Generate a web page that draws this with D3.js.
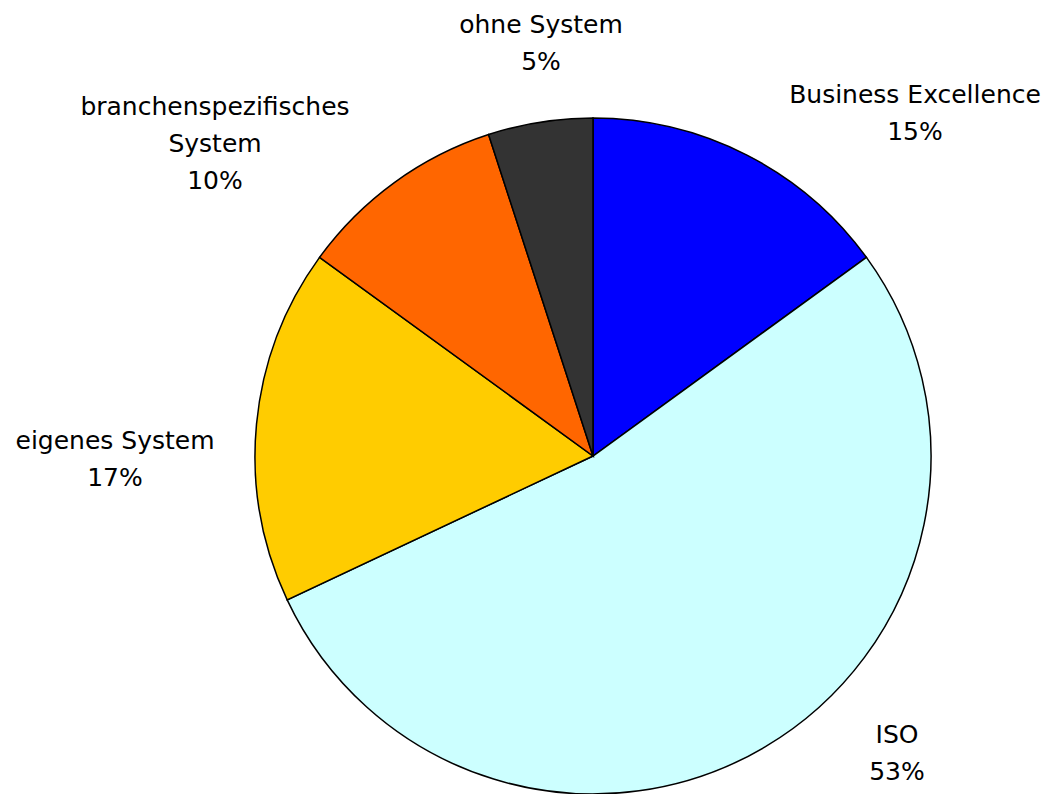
<!DOCTYPE html>
<html>
<head>
<meta charset="utf-8">
<script src="https://cdn.jsdelivr.net/npm/d3@7"></script>
<style>
  body { margin: 0; background: #fff; }
</style>
</head>
<body>
<div id="main-container"></div>
<script>
// DATA
const categories = ["Business Excellence", "ISO", "eigenes System", "branchenspezifisches System", "ohne System"];
const values = [15, 53, 17, 10, 5];
const labelLines = [
    ["Business Excellence", "15%"],
    ["ISO", "53%"],
    ["eigenes System", "17%"],
    ["branchenspezifisches", "System", "10%"],
    ["ohne System", "5%"]
];
const colors = ["#0000ff", "#ccffff", "#ffcc00", "#ff6600", "#333333"];

// SETUP
const width = 1048, height = 794;
const cx = 593, cy = 456, radius = 338;

const svg = d3.select("#main-container").append("svg")
    .attr("width", width)
    .attr("height", height);

const pie = d3.pie().sort(null).value(d => d);
const arcs = pie(values);
const arc = d3.arc().innerRadius(0).outerRadius(radius);

const g = svg.append("g").attr("transform", `translate(${cx},${cy})`);

g.selectAll(".slice")
    .data(arcs)
    .enter().append("path")
    .attr("class", "slice")
    .attr("d", arc)
    .style("fill", (d, i) => colors[i])
    .style("stroke", "black")
    .style("stroke-width", "1.5");

// label anchor offsets (tuned to match reference placement)
const labelPos = [
    [322, -353],
    [304, 287],
    [-478, -7],
    [-378, -341],
    [-52, -423]
];

const lineH = 37;
const labels = g.selectAll(".label")
    .data(arcs)
    .enter().append("text")
    .attr("class", "label")
    .attr("text-anchor", "middle")
    .attr("font-family", "Tahoma, 'DejaVu Sans', sans-serif")
    .attr("font-size", 25)
    .attr("fill", "black")
    .attr("transform", (d, i) => `translate(${labelPos[i][0]},${labelPos[i][1]})`);

labels.each(function(d, i) {
    const t = d3.select(this);
    labelLines[i].forEach((line, j) => {
        t.append("tspan").attr("x", 0).attr("y", j * lineH).text(line);
    });
});
</script>
</body>
</html>
